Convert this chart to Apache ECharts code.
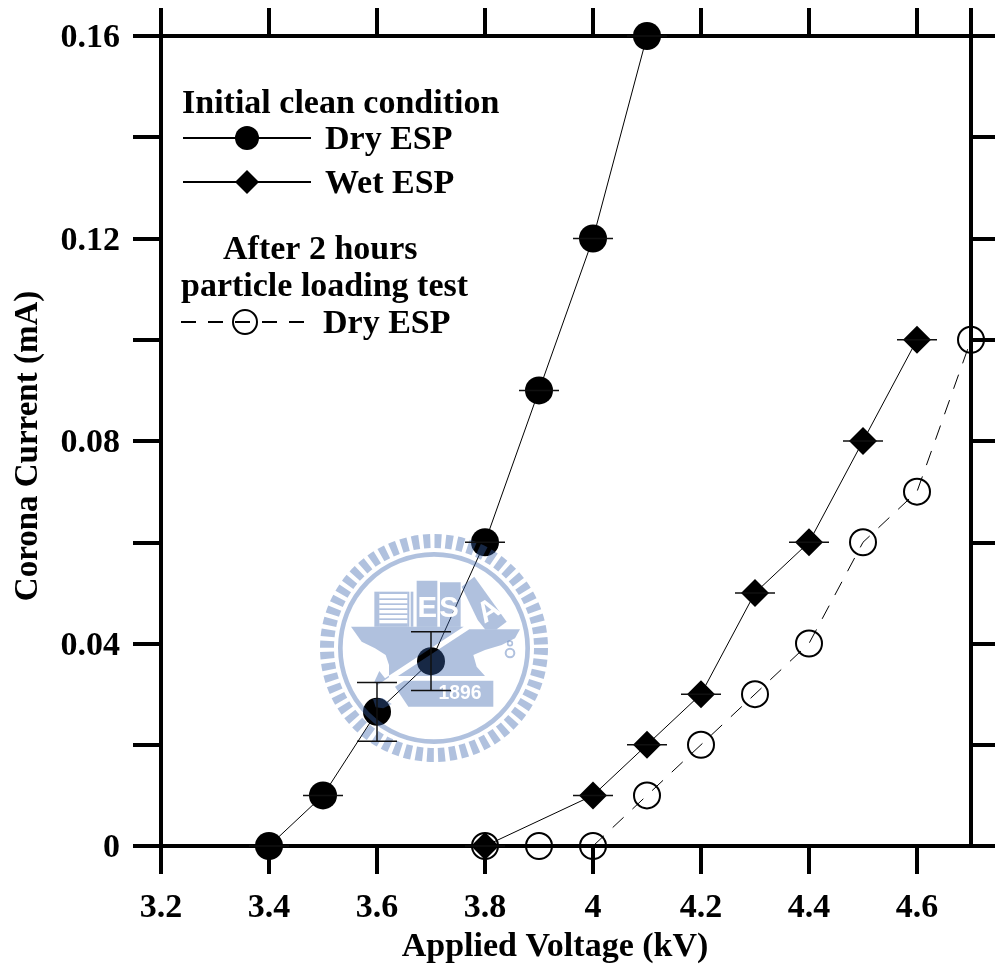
<!DOCTYPE html>
<html><head><meta charset="utf-8">
<style>html,body{margin:0;padding:0;background:#fff}#c{width:995px;height:966px}</style>
<script src="https://cdn.jsdelivr.net/npm/echarts@6/dist/echarts.min.js"></script>
</head><body><div id="c"></div>
<script>
const xTicks = [3.2,3.4,3.6,3.8,4,4.2,4.4,4.6];
const xTopTicks = [3.2,3.4,3.6,3.8,4,4.2,4.4,4.6,4.7];
const yTicks = [0,0.02,0.04,0.06,0.08,0.1,0.12,0.14,0.16];
const yLabels = [0,0.04,0.08,0.12,0.16];
const dryX = [3.4,3.5,3.6,3.7,3.8,3.9,4,4.1];
const dryY = [0,0.01,0.0265,0.0365,0.06,0.09,0.12,0.16];
const dryErr = [0,0,0.0058,0.0058,0,0,0,0];
const wetX = [3.8,4,4.1,4.2,4.3,4.4,4.5,4.6];
const wetY = [0,0.01,0.02,0.03,0.05,0.06,0.08,0.1];
const wetErr = [0,0,0,0,0,0,0,0];
const loadedX = [3.8,3.9,4,4.1,4.2,4.3,4.4,4.5,4.6,4.7];
const loadedY = [0,0,0,0.01,0.02,0.03,0.04,0.06,0.07,0.1];

const SERIF = '"Liberation Serif","Times New Roman",serif';
const zip = (a,b) => a.map((v,i)=>[v,b[i]]);
const errData = (a,b,e) => a.map((v,i)=>[v,b[i],e[i]]);
const labelStyle = {fontFamily:SERIF,fontWeight:'bold',fontSize:34,color:'#000'};
const axisLine = {show:true,onZero:false,lineStyle:{color:'#000',width:4}};
const tick = (vals,show=true)=>({show,length:28,inside:false,lineStyle:{color:'#000',width:4},customValues:vals});

function errorSeries(name,data){
  return {type:'custom',name,z:5,clip:false,silent:true,data,encode:{x:0,y:1},
    renderItem(p,api){
      const x=api.value(0),y=api.value(1),e=api.value(2);
      const hi=api.coord([x,y+e]),lo=api.coord([x,y-e]),st={stroke:'#101010',lineWidth:1.5};
      const w=20;
      const kids=[{type:'line',shape:{x1:hi[0]-w,y1:hi[1],x2:hi[0]+w,y2:hi[1]},style:st}];
      if(e>0){
        kids.push({type:'line',shape:{x1:lo[0]-w,y1:lo[1],x2:lo[0]+w,y2:lo[1]},style:st});
        kids.push({type:'line',shape:{x1:hi[0],y1:hi[1],x2:lo[0],y2:lo[1]},style:st});
      }
      return {type:'group',children:kids};
    }};
}

// watermark, in a local coordinate system scaled 3x
const INK='rgba(57,100,172,0.4)';
const poly=pts=>({type:'polygon',z:3,silent:true,shape:{points:pts},style:{fill:INK}});
const rect=(x,y,w,h)=>({type:'rect',z:3,silent:true,shape:{x,y,width:w,height:h},style:{fill:INK}});
const wtext=(t,x,y,size,rot,fam)=>({type:'text',z:4,silent:true,x,y,rotation:rot||0,
  style:{text:t,fill:'#fff',font:'bold '+size+'px '+(fam||'"Liberation Sans",sans-serif'),textAlign:'center',textVerticalAlign:'middle'}});
const CX=267,CY=234,TR=321;
const period=2*Math.PI*TR/60;
const logoKids=[
  {type:'circle',z:3,silent:true,shape:{cx:CX,cy:CY,r:TR},style:{fill:'none',stroke:INK,lineWidth:42,lineDash:[period*0.62,period*0.38]}},
  {type:'circle',z:3,silent:true,shape:{cx:CX,cy:CY,r:281},style:{fill:'none',stroke:INK,lineWidth:14}},
  // striped book
  rect(88,65,15,105),rect(103,65,84,7),rect(187,65,6,105),
  rect(103,85,84,5),rect(103,100,84,5),rect(103,115,84,5),rect(103,130,84,5),rect(103,145,84,5),rect(103,160,84,10),
  rect(197,65,8,105),
  // E and S books
  rect(215,32,62,138),rect(285,37,62,133),
  // hammer head
  poly([[350,50],[388,20],[485,155],[455,178],[420,178],[398,150]]),
  // anvil, either side of the handle
  poly([[18,170],[356,170],[120,325],[103,303],[88,335],[98,345],[132,322],[132,285],[122,255],[90,235],[50,215]]),
  poly([[373,178],[525,178],[510,205],[470,225],[420,240],[385,255],[395,290],[420,318],[159,318]]),
  // year plaque and foot
  poly([[150,350],[177,332],[445,332],[445,410],[190,410]]),
  poly([[84,387],[112,384],[140,402],[115,415],[92,412]]),
  {type:'circle',z:3,silent:true,shape:{cx:495,cy:220,r:7},style:{fill:'none',stroke:INK,lineWidth:5}},
  {type:'circle',z:3,silent:true,shape:{cx:495,cy:249,r:13},style:{fill:'none',stroke:INK,lineWidth:6}},
  wtext('E',247,118,88),wtext('S',312,118,88),wtext('A',432,125,88,0.55),
  wtext('1896',345,371,58)
];
const headText=(t,x,y)=>({type:'text',z:6,silent:true,left:x,top:y,style:{text:t,font:'bold 34px '+SERIF,fill:'#000'}});

const legendFont={fontFamily:SERIF,fontWeight:'bold',fontSize:34,color:'#000'};
const legendBase={orient:'horizontal',selectedMode:false,itemWidth:128,itemHeight:30,padding:0,
  textStyle:{...legendFont,rich:{a:{...legendFont,padding:[4,0,0,9]}}},
  formatter:n=>'{a|'+n.replace(/ \(.*\)/,'')+'}'};

const option={
  animation:false,backgroundColor:'#fff',
  grid:{left:161,top:36,width:810,height:810,containLabel:false,outerBoundsMode:'none'},
  xAxis:[
    {type:'value',position:'bottom',min:3.2,max:4.7,interval:0.2,splitLine:{show:false},axisLine,
     axisTick:tick(xTicks),axisLabel:{...labelStyle,margin:45,customValues:xTicks,showMinLabel:true,formatter:v=>String(v)},
     name:'Applied Voltage (kV)',nameLocation:'middle',nameGap:82,
     nameTextStyle:{fontFamily:SERIF,fontWeight:'bold',fontSize:34,color:'#000',padding:[0,22,0,0]}},
    {type:'value',position:'top',min:3.2,max:4.7,interval:0.2,splitLine:{show:false},axisLine,
     axisTick:tick(xTopTicks),axisLabel:{show:false}}
  ],
  yAxis:[
    {type:'value',position:'left',min:0,max:0.16,interval:0.02,splitLine:{show:false},axisLine,
     axisTick:tick(yTicks),axisLabel:{...labelStyle,margin:41,verticalAlign:'top',lineHeight:5,customValues:yLabels,formatter:v=>String(v)},
     name:'Corona Current (mA)',nameLocation:'middle',nameGap:108,
     nameTextStyle:{fontFamily:SERIF,fontWeight:'bold',fontSize:33,color:'#000',padding:[0,10,8,0]}},
    {type:'value',position:'right',min:0,max:0.16,interval:0.02,splitLine:{show:false},axisLine,
     axisTick:tick(yTicks),axisLabel:{show:false}}
  ],
  legend:[
    {...legendBase,left:182,top:123,data:['Dry ESP (initial)']},
    {...legendBase,left:182,top:167,data:['Wet ESP']},
    {...legendBase,left:180,top:307,data:['Dry ESP (after loading)']}
  ],
  graphic:[
    headText('Initial clean condition',182,87),
    headText('After 2 hours',223,233),
    headText('particle loading test',181,270),
    {type:'group',left:345,top:570,scaleX:1/3,scaleY:1/3,silent:true,children:logoKids,bounding:'raw'}
  ],
  series:[
    errorSeries('dry error',errData(dryX,dryY,dryErr)),
    errorSeries('wet error',errData(wetX,wetY,wetErr)),
    {type:'line',name:'Dry ESP (after loading)',data:zip(loadedX,loadedY),z:2,clip:false,silent:true,
     symbol:'circle',symbolSize:26,lineStyle:{color:'#000',width:1,type:[15,12]},
     itemStyle:{color:'none',borderColor:'#000',borderWidth:2}},
    {type:'line',name:'Wet ESP',data:zip(wetX,wetY),z:2,clip:false,silent:true,
     symbol:'diamond',symbolSize:28,lineStyle:{color:'#000',width:1},itemStyle:{color:'#000'}},
    {type:'line',name:'Dry ESP (initial)',data:zip(dryX,dryY),z:2,clip:false,silent:true,
     symbol:'circle',symbolSize:28,lineStyle:{color:'#000',width:1},itemStyle:{color:'#000'}}
  ]
};
const chart=echarts.init(document.getElementById('c'),null,{renderer:'canvas'});
chart.setOption(option);
</script></body></html>
